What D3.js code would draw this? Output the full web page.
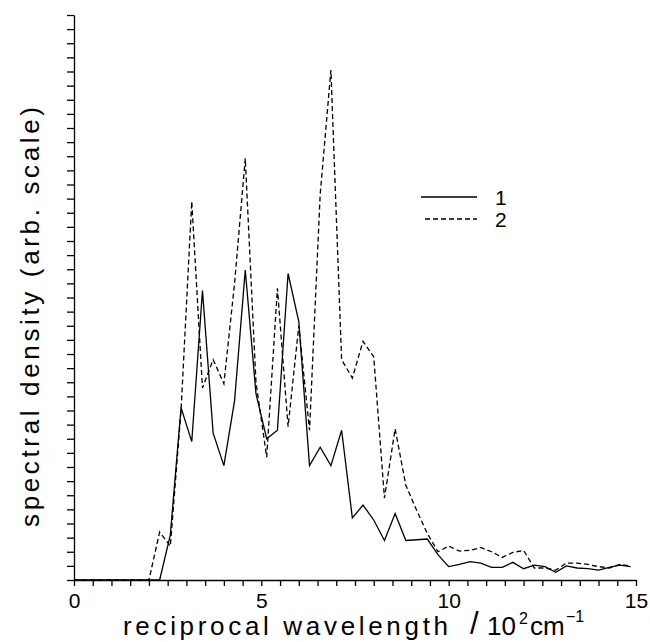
<!DOCTYPE html>
<html>
<head>
<meta charset="utf-8">
<script src="https://cdn.jsdelivr.net/npm/d3@7"></script>
<style>
  body { margin: 0; background: #fff; }
  svg { display: block; font-family: "Liberation Sans", Arial, sans-serif; }
</style>
</head>
<body>
<svg id="chart" width="650" height="642"></svg>
<script>
// reciprocal wavelength, 10^2 cm^-1 (sample grid)
const wavenumber = [0, 0.286, 0.571, 0.857, 1.143, 1.429, 1.714, 2.0, 2.286, 2.571,
    2.857, 3.143, 3.429, 3.714, 4.0, 4.286, 4.571, 4.857, 5.143, 5.429,
    5.714, 6.0, 6.286, 6.571, 6.857, 7.143, 7.429, 7.714, 8.0, 8.286,
    8.571, 8.857, 9.143, 9.429, 9.714, 10.0, 10.286, 10.571, 10.857, 11.143,
    11.429, 11.714, 12.0, 12.286, 12.571, 12.857, 13.143, 13.429, 13.714, 14.0,
    14.286, 14.571, 14.857];

// curve 1 (solid), arbitrary units = y tick steps
const series1 = [0, 0, 0, 0, 0, 0, 0, 0, 0, 3.2,
    12.2, 9.8, 20.5, 10.4, 8.1, 12.7, 21.95, 13.2, 10.0, 10.6,
    21.7, 18.3, 8.1, 9.4, 8.1, 10.6, 4.4, 5.3, 4.25, 2.8,
    4.7, 2.8, 2.85, 2.9, 1.8, 0.95, 1.1, 1.3, 1.2, 0.9,
    0.9, 1.25, 0.8, 1.05, 0.95, 0.55, 1.0, 0.85, 0.8, 0.7,
    0.9, 1.05, 0.95];

// curve 2 (dashed)
const series2 = [0, 0, 0, 0, 0, 0, 0, 0, 3.4, 2.4,
    12.0, 26.8, 13.6, 15.6, 13.9, 21.0, 29.85, 14.0, 8.7, 20.65,
    10.85, 18.0, 10.6, 27.3, 36.1, 15.6, 14.3, 16.9, 15.8, 5.8,
    10.7, 6.7, 4.95, 3.3, 2.0, 2.4, 2.05, 2.1, 2.3, 2.0,
    1.6, 1.95, 2.1, 0.85, 0.85, 0.7, 1.2, 1.2, 1.1, 0.95,
    0.85, 1.1, 1.0];

const xTicks = d3.range(0, 15.001, 0.5);
const xLabels = [0, 5, 10, 15];
const yTicks = d3.range(0, 41);

const svg = d3.select('#chart');

const x = d3.scaleLinear().domain([0, 15]).range([74, 636]);
const y = d3.scaleLinear().domain([0, 40]).range([580, 15]);

// axes
const xAxis = d3.axisBottom(x)
    .tickValues(xTicks)
    .tickSize(6)
    .tickSizeOuter(0)
    .tickPadding(7)
    .tickFormat(d => xLabels.includes(d) ? d : '');

const yAxis = d3.axisLeft(y)
    .tickValues(yTicks)
    .tickSize(7)
    .tickSizeOuter(0)
    .tickFormat('');

const gx = svg.append('g')
    .attr('transform', `translate(0,${y(0)})`)
    .call(xAxis);
gx.selectAll('text')
    .attr('font-size', 21)
    .attr('font-family', '"Liberation Sans", Arial, sans-serif')
    .attr('fill', '#000');

svg.append('g')
    .attr('transform', `translate(${x(0)},0)`)
    .call(yAxis);

svg.selectAll('.domain, .tick line')
    .attr('stroke', '#000')
    .attr('stroke-width', 1.3);

// curves
const line = d3.line()
    .x(d => x(d[0]))
    .y(d => y(d[1]));

svg.append('path')
    .datum(d3.zip(wavenumber, series2))
    .attr('fill', 'none')
    .attr('stroke', '#000')
    .attr('stroke-width', 1.3)
    .attr('stroke-dasharray', '5,3')
    .attr('d', line);

svg.append('path')
    .datum(d3.zip(wavenumber, series1))
    .attr('fill', 'none')
    .attr('stroke', '#000')
    .attr('stroke-width', 1.3)
    .attr('d', line);

// legend
const legend = svg.append('g');
legend.append('line')
    .attr('x1', 421).attr('x2', 477)
    .attr('y1', 197).attr('y2', 197)
    .attr('stroke', '#000').attr('stroke-width', 1.3);
legend.append('line')
    .attr('x1', 425).attr('x2', 477)
    .attr('y1', 219).attr('y2', 219)
    .attr('stroke', '#000').attr('stroke-width', 1.3)
    .attr('stroke-dasharray', '5,3');
legend.append('text').attr('x', 495).attr('y', 205).attr('font-size', 21).text('1');
legend.append('text').attr('x', 495).attr('y', 227).attr('font-size', 21).text('2');

// axis titles
svg.append('text')
    .attr('x', 123).attr('y', 635)
    .attr('font-size', 26)
    .attr('textLength', 325)
    .attr('lengthAdjust', 'spacing')
    .text('reciprocal wavelength');
svg.append('text').attr('x', 470).attr('y', 634).attr('font-size', 31).text('/');
svg.append('text').attr('x', 487).attr('y', 635).attr('font-size', 26).text('10');
svg.append('text').attr('x', 519).attr('y', 624).attr('font-size', 16).text('2');
svg.append('text').attr('x', 530).attr('y', 635).attr('font-size', 26).text('cm');
svg.append('text').attr('x', 566).attr('y', 622).attr('font-size', 16).text('\u22121');

svg.append('text')
    .attr('transform', 'translate(39,317) rotate(-90)')
    .attr('text-anchor', 'middle')
    .attr('font-size', 26)
    .attr('textLength', 420)
    .attr('lengthAdjust', 'spacing')
    .text('spectral density (arb. scale)');
</script>
</body>
</html>
